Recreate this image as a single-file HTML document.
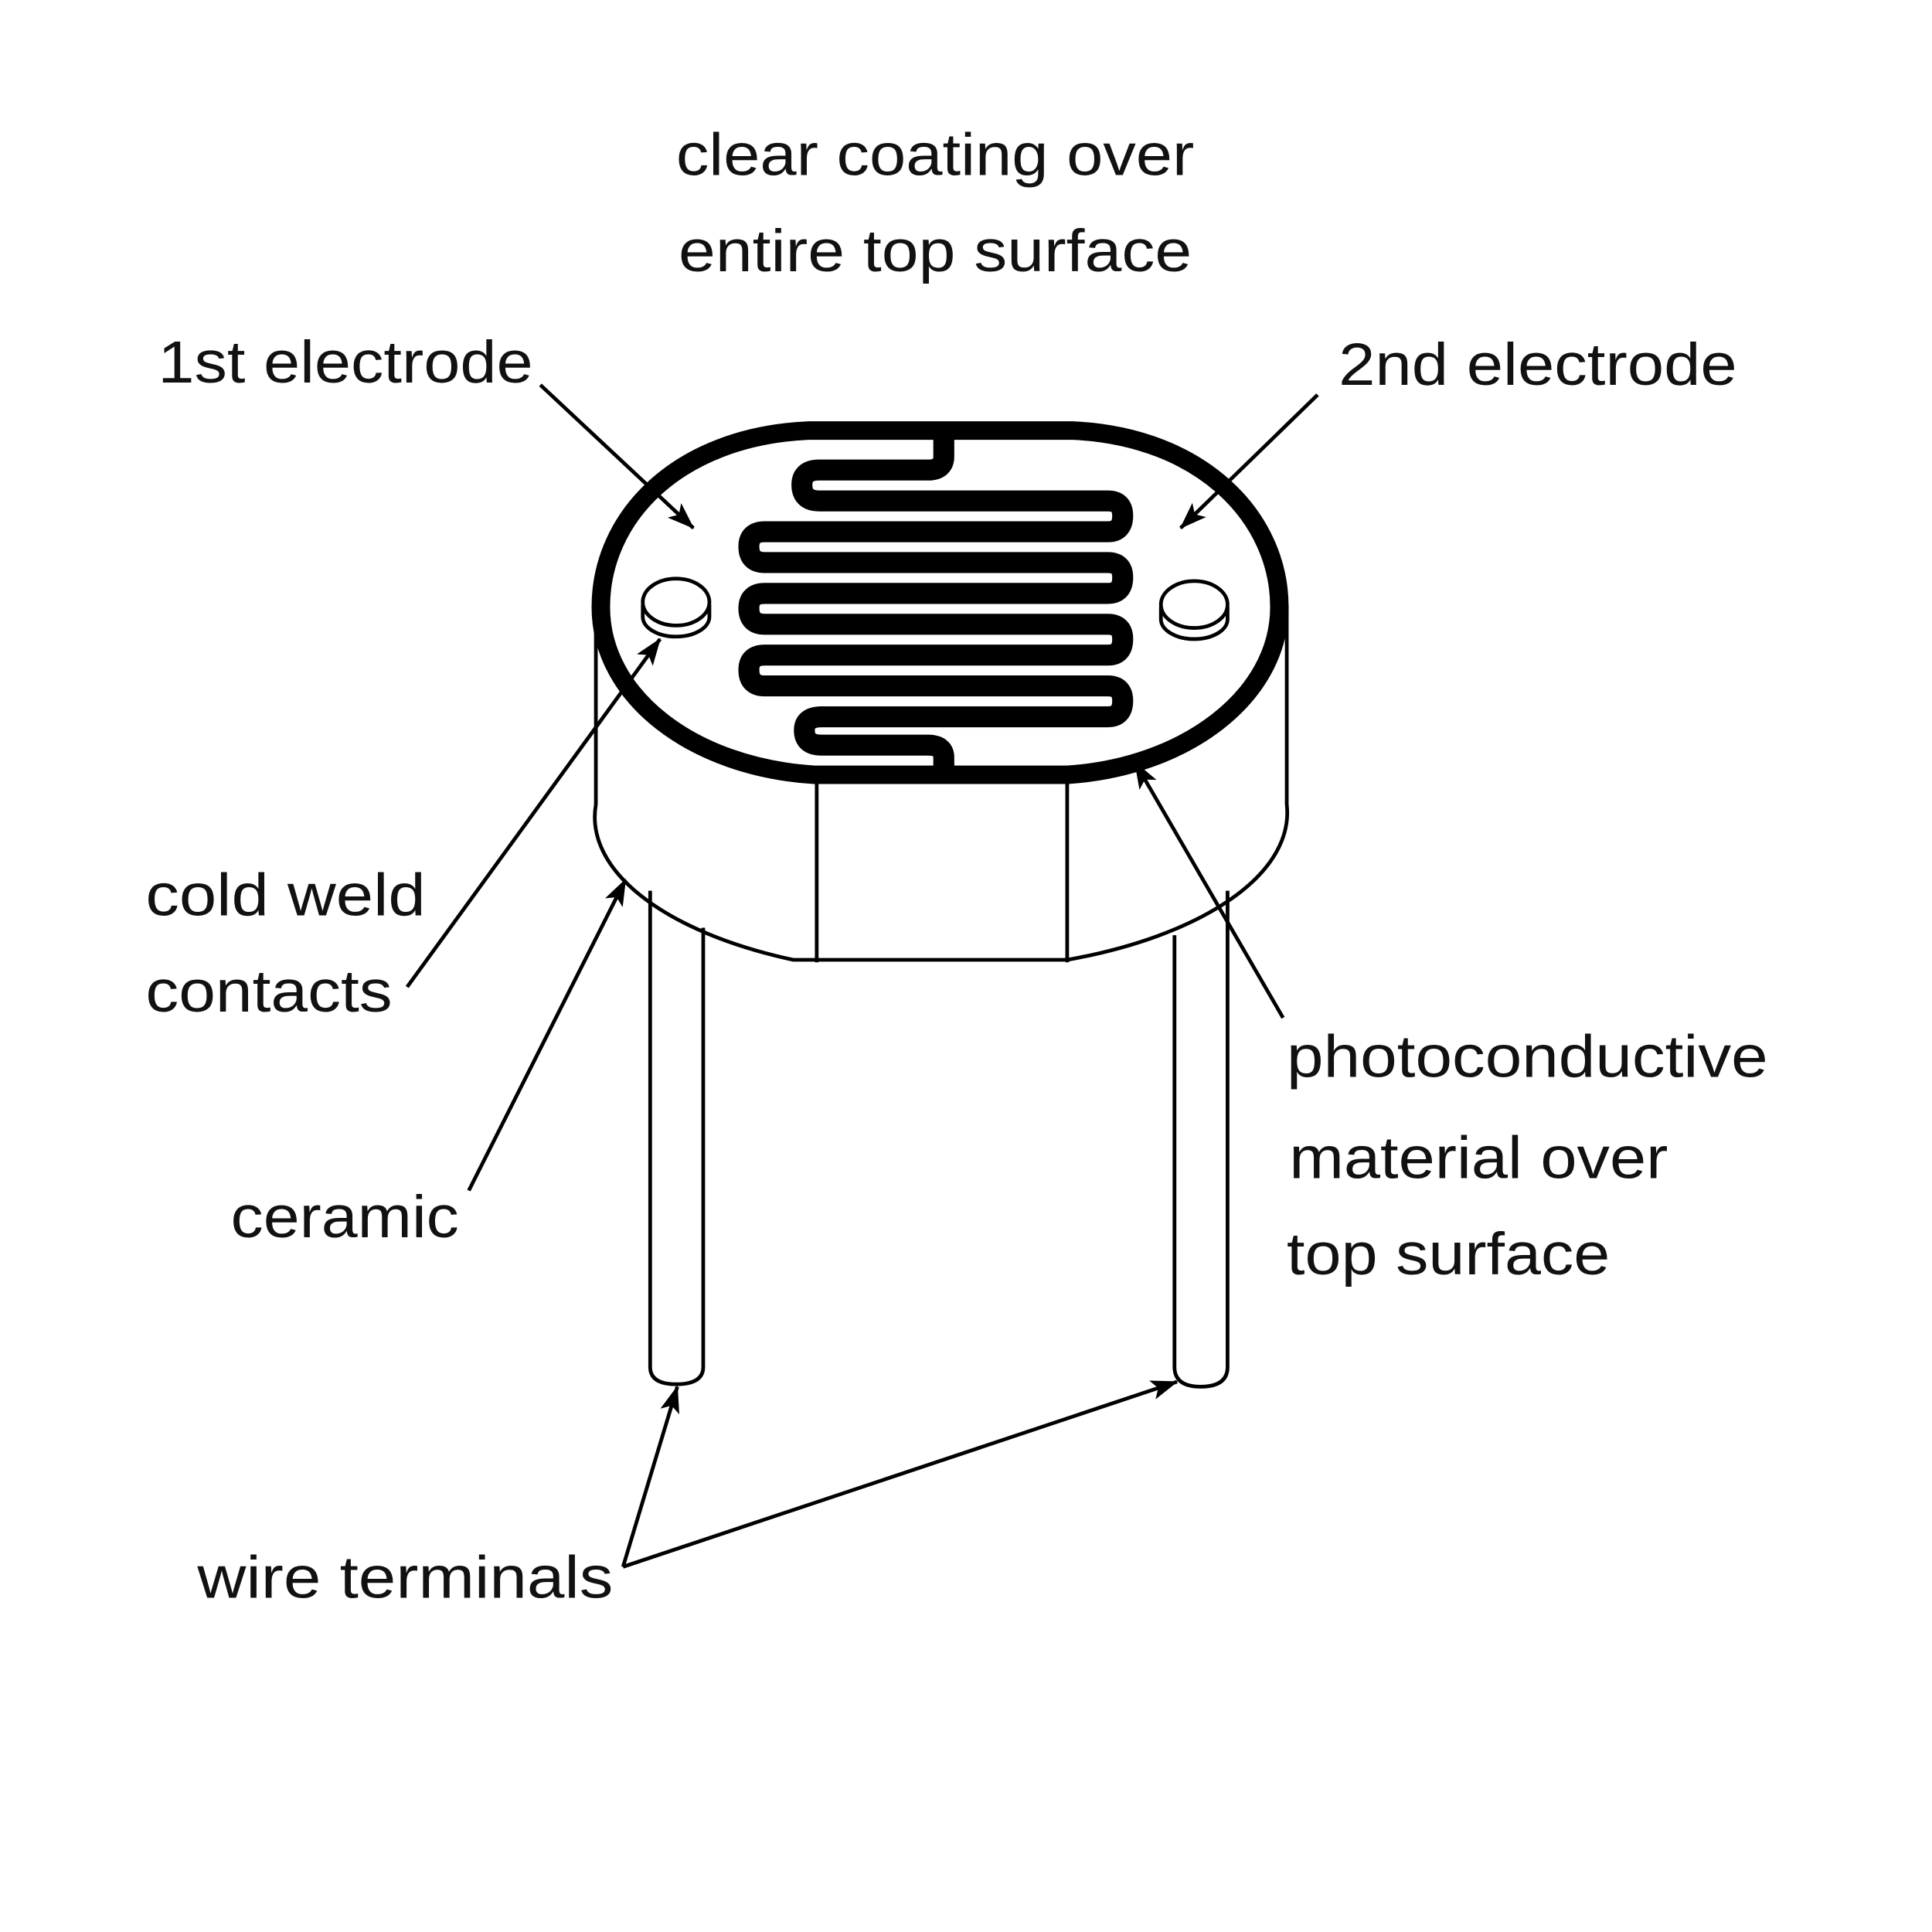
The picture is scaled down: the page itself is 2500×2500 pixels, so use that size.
<!DOCTYPE html>
<html><head><meta charset="utf-8"><style>html,body{margin:0;padding:0;background:#fff}svg{display:block}</style></head>
<body>
<svg width="2500" height="2500" viewBox="0 0 1566 1566" xmlns="http://www.w3.org/2000/svg">
<defs>
<marker id="b" markerWidth="22" markerHeight="16" refX="21" refY="8" orient="auto" markerUnits="userSpaceOnUse" viewBox="0 0 22 16"><path d="M0,0 L22,8 L0,16 L5,8 Z" fill="#000"/></marker></defs>
<rect width="1566" height="1566" fill="#fff"/>
<g fill="none" stroke="#000" stroke-width="3">
<path d="M527,722 V1108 Q527,1122 548,1122 Q570,1122 570,1108 V752"/>
<path d="M952,758 V1108 Q952,1124 973,1124 Q995,1124 995,1108 V722"/>
<path d="M483,490 V652 A280,128 0 0 0 643,778 H865 A280,128 0 0 0 1043,652 V490"/>
<path d="M662,635 V780 M865,635 V780"/>
</g>
<path d="M655,349 H870 C975,354 1037,420 1037,492 C1037,565 960,622 865,628 H660 C562,622 487,565 487,492 C487,420 548,354 655,349 Z" fill="#fff" stroke="#000" stroke-width="15"/>
<path d="M765,352 V370 Q765,381 752,381 H664 Q650,381 650,393 Q650,406 664,406 H898 Q910,406 910,418 Q910,431 898,431 H620 Q607,431 607,443 Q607,456 620,456 H898 Q910,456 910,468 Q910,481 898,481 H620 Q607,481 607,493 Q607,506 620,506 H898 Q910,506 910,518 Q910,531 898,531 H620 Q607,531 607,543 Q607,556 620,556 H898 Q910,556 910,568 Q910,581 898,581 H666 Q652,581 652,592 Q652,604 666,604 H752 Q765,604 765,614 V626" fill="none" stroke="#000" stroke-width="17"/>
<g fill="#fff" stroke="#000" stroke-width="3">
<path d="M521,490 V500 A27,16 0 0 0 575,500 V490"/>
<ellipse cx="548" cy="488" rx="27" ry="19"/>
<path d="M941,492 V502 A27,16 0 0 0 995,502 V492"/>
<ellipse cx="968" cy="490" rx="27" ry="19"/>
</g>
<g stroke="#000" stroke-width="3" fill="none" marker-end="url(#b)">
<line x1="438" y1="312" x2="562" y2="428"/>
<line x1="1068" y1="320" x2="957" y2="428"/>
<line x1="330" y1="800" x2="535" y2="518"/>
<line x1="380" y1="965" x2="507" y2="713"/>
<line x1="1040" y1="825" x2="920" y2="618"/>
<line x1="505" y1="1270" x2="549" y2="1124"/>
<line x1="505" y1="1270" x2="954" y2="1120"/>
</g>
<g font-family="'Liberation Sans', sans-serif" font-size="48" fill="#111">
<text x="548" y="142" textLength="420" lengthAdjust="spacingAndGlyphs">clear coating over</text>
<text x="550" y="220" textLength="416" lengthAdjust="spacingAndGlyphs">entire top surface</text>
<text x="128" y="310" textLength="304" lengthAdjust="spacingAndGlyphs">1st electrode</text>
<text x="1085" y="312" textLength="323" lengthAdjust="spacingAndGlyphs">2nd electrode</text>
<text x="118" y="742" textLength="227" lengthAdjust="spacingAndGlyphs">cold weld</text>
<text x="118" y="820" textLength="200" lengthAdjust="spacingAndGlyphs">contacts</text>
<text x="187" y="1003" textLength="185" lengthAdjust="spacingAndGlyphs">ceramic</text>
<text x="1043" y="873" textLength="390" lengthAdjust="spacingAndGlyphs">photoconductive</text>
<text x="1045" y="955" textLength="307" lengthAdjust="spacingAndGlyphs">material over</text>
<text x="1043" y="1033" textLength="262" lengthAdjust="spacingAndGlyphs">top surface</text>
<text x="160" y="1295" textLength="337" lengthAdjust="spacingAndGlyphs">wire terminals</text>
</g>
</svg>
</body></html>
